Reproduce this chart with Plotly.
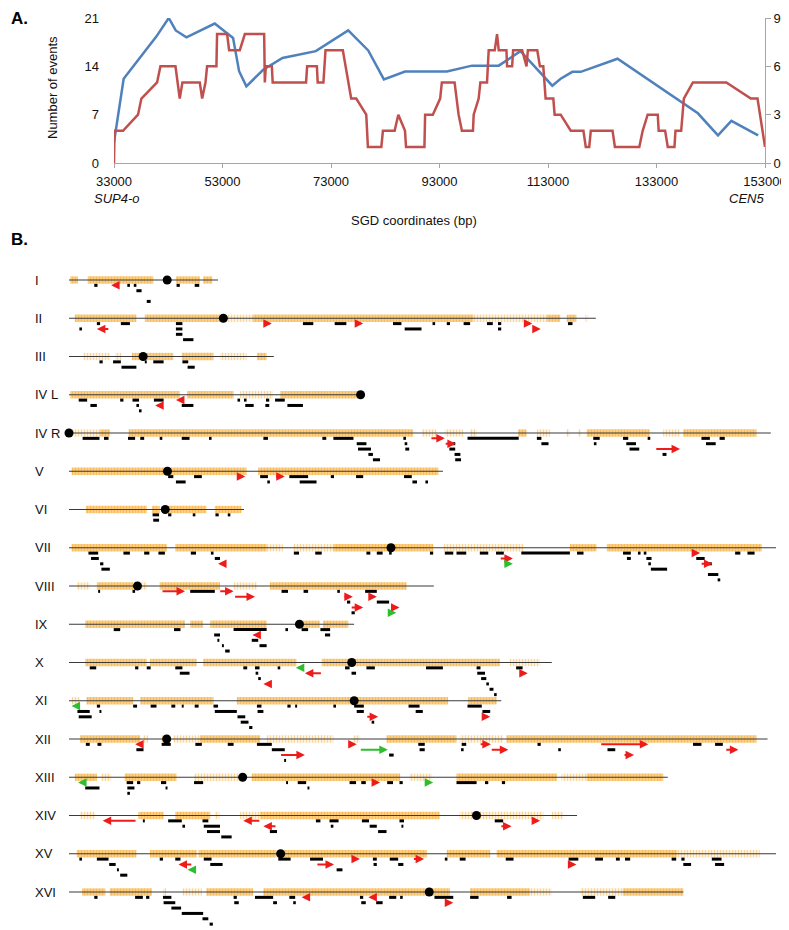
import plotly.graph_objects as go

# the page adds an 8px body margin, so the figure is drawn 8px smaller and every
# screen-pixel placement below is shifted by that offset
PAGE_W, PAGE_H = 789, 930
OFF = 8
W, H = PAGE_W - OFF, PAGE_H - OFF

# ---------------- panel A: events along the SUP4-o / CEN5 interval ----------------
x_ticks = [33000, 53000, 73000, 93000, 113000, 133000, 153000]

blue_x = [33000, 34780, 40800, 43090, 44380, 46350, 51570, 54950, 56060, 57400,
          60500, 64060, 70200, 76170, 79860, 82750, 86640, 94360, 98990, 103920,
          107930, 113790, 115330, 117490, 119040, 125820, 140630, 144330, 146800, 151740]
blue_y = [3, 12.2, 18.3, 21, 19.2, 18.2, 20.2, 18.1, 13.3, 11.1,
          13.5, 15.2, 16.2, 19.2, 16.3, 12.1, 13.25, 13.25, 14.1, 14.1,
          16.2, 11.2, 12.2, 13.2, 13.2, 15.1, 7.2, 4.0, 6.1, 4.0]

red_x = [33000, 33100, 34660, 37430, 38050, 40940, 41560, 44330, 45120, 45610,
         48810, 49250, 49860, 50160, 51880, 52000, 53850, 54220, 56190, 57120,
         60680, 60800, 60980, 62100, 62250, 68400, 68600, 70400, 70550, 71600,
         71990, 75180, 76720, 77650, 79500, 79800, 82280, 82570, 84730, 85410,
         86640, 86830, 90220, 90350, 91770, 93120, 93430, 95780, 96520, 97130,
         99170, 99300, 100220, 100530, 101760, 102070, 103180, 103610, 103920, 105340,
         105460, 106390, 106570, 108240, 109040, 109290, 111020, 111510, 112130, 112560,
         113980, 114220, 115340, 117190, 119530, 119960, 120600, 120890, 124900, 125330,
         129830, 130450, 131370, 133230, 133400, 134590, 135080, 136310, 136500, 137550,
         138040, 139710, 145880, 150380, 151620, 152480, 153000]
red_y = [0, 2, 2, 3, 4, 5, 6, 6, 4, 5,
         5, 4, 5, 6, 6, 8, 8, 7, 7, 8,
         8, 5, 6, 6, 5, 5, 6, 6, 5, 5,
         7, 7, 4, 4, 3, 1, 1, 2, 2, 3,
         2, 1, 1, 3, 3, 4, 5, 5, 3, 2,
         2, 3, 4, 5, 5, 7, 7, 8, 7, 7,
         6, 6, 7, 7, 6, 7, 7, 6, 6, 4,
         4, 3, 3, 2, 2, 1, 1, 2, 2, 1,
         1, 2, 3, 3, 2, 2, 1, 1, 2, 2,
         4, 5, 5, 4, 4, 2, 1]

# ---------------- panel B: genome map (kb) ----------------
chrom_names = ["I", "II", "III", "IV L", "IV R", "V", "VI", "VII", "VIII",
               "IX", "X", "XI", "XII", "XIII", "XIV", "XV", "XVI"]
chrom_len = [230, 813, 316, 450, 1083, 577, 270, 1091, 563, 440, 745, 667,
             1078, 924, 784, 1091, 948]
cen_pos = [151.5, 238.2, 114.4, 450, 0, 151.9, 148.5, 496.9, 105.6, 355.6,
           436.3, 440.1, 150.8, 268.0, 628.8, 326.6, 555.9]

# gene-rich stretches (row, start, end)
genes_dense = [
    (0, 2, 14), (0, 29, 130), (0, 165, 202), (0, 207, 221),
    (1, 9, 104), (1, 117, 233), (1, 284, 624), (1, 737, 758), (1, 768, 783),
    (2, 97, 112), (2, 120, 161), (2, 174, 223), (2, 290, 305),
    (3, 2, 171), (3, 182, 254), (3, 326, 446),
    (4, 48, 63), (4, 92, 531), (4, 693, 706), (4, 799, 896), (4, 948, 1061),
    (5, 4, 151), (5, 156, 274), (5, 292, 570),
    (6, 26, 120), (6, 128, 140), (6, 153, 212), (6, 225, 266),
    (7, 4, 151), (7, 164, 305), (7, 408, 562), (7, 773, 814), (7, 830, 1069),
    (8, 43, 99), (8, 140, 233), (8, 310, 521),
    (9, 25, 179), (9, 187, 207), (9, 218, 305), (9, 359, 387), (9, 392, 431),
    (10, 25, 120), (10, 125, 197), (10, 207, 351), (10, 390, 665),
    (11, 27, 99), (11, 110, 223), (11, 259, 585), (11, 616, 660),
    (12, 17, 110), (12, 202, 295), (12, 490, 598), (12, 675, 1061),
    (13, 9, 43), (13, 86, 166), (13, 282, 511), (13, 598, 753), (13, 799, 917),
    (14, 107, 146), (14, 164, 218), (14, 295, 572),
    (15, 12, 104), (15, 125, 197), (15, 200, 320), (15, 331, 552), (15, 583, 650),
    (15, 660, 938),
    (16, 20, 56), (16, 63, 128), (16, 212, 284), (16, 300, 588), (16, 619, 711),
    (16, 855, 948),
]
genes_sparse = [
    (1, 243, 284), (1, 624, 737), (1, 797, 801),
    (2, 22, 63), (2, 71, 81), (2, 233, 274),
    (3, 264, 315),
    (4, 4, 48), (4, 544, 567), (4, 580, 608), (4, 619, 629), (4, 722, 742),
    (4, 768, 773), (4, 786, 790), (4, 917, 943),
    (7, 305, 330), (7, 346, 408), (7, 578, 701),
    (8, 12, 32), (8, 110, 120), (8, 254, 290),
    (10, 680, 727),
    (11, 4, 17),
    (12, 114, 122), (12, 143, 155), (12, 161, 202), (12, 305, 408), (12, 439, 449),
    (12, 603, 670),
    (13, 50, 65), (13, 193, 264), (13, 525, 560), (13, 760, 799),
    (14, 17, 40), (14, 225, 232), (14, 264, 295), (14, 603, 732), (14, 745, 763),
    (15, 938, 1066),
    (16, 145, 150), (16, 175, 205), (16, 711, 745), (16, 789, 855),
]

# conversion tracts (row, start, end, level)
tracts = [
    (0, 39, 44, 1), (0, 90, 94, 1), (0, 100, 104, 1), (0, 166, 171, 1), (0, 194, 201, 1),
    (0, 104, 112, 2), (0, 120, 126, 4),
    (1, 43, 48, 1), (1, 80, 94, 1), (1, 165, 175, 1), (1, 361, 377, 1), (1, 410, 428, 1),
    (1, 500, 513, 1), (1, 561, 565, 1), (1, 583, 588, 1), (1, 609, 619, 1), (1, 645, 654, 1),
    (1, 662, 667, 1), (1, 770, 777, 1),
    (1, 16, 20, 2), (1, 165, 175, 2), (1, 518, 544, 2), (1, 662, 667, 2),
    (1, 165, 175, 3), (1, 176, 192, 4),
    (2, 47, 52, 1), (2, 68, 80, 1), (2, 117, 120, 1), (2, 130, 146, 1), (2, 175, 184, 1),
    (2, 81, 104, 2), (2, 183, 194, 2),
    (3, 15, 28, 1), (3, 79, 84, 1), (3, 98, 108, 1), (3, 131, 146, 1), (3, 260, 264, 1),
    (3, 270, 274, 1), (3, 304, 309, 1), (3, 318, 333, 1),
    (3, 33, 43, 2), (3, 104, 108, 2), (3, 174, 192, 2), (3, 272, 285, 2), (3, 303, 309, 2),
    (3, 337, 361, 2), (3, 108, 112, 3),
    (4, 21, 47, 1), (4, 54, 61, 1), (4, 91, 102, 1), (4, 110, 116, 1), (4, 140, 144, 1),
    (4, 174, 186, 1), (4, 216, 220, 1), (4, 300, 307, 1), (4, 391, 397, 1), (4, 408, 439, 1),
    (4, 516, 520, 1), (4, 615, 694, 1), (4, 722, 729, 1), (4, 809, 819, 1), (4, 855, 863, 1),
    (4, 893, 897, 1), (4, 976, 989, 1), (4, 1004, 1012, 1),
    (4, 444, 459, 2), (4, 518, 522, 2), (4, 588, 596, 2), (4, 729, 740, 2), (4, 810, 814, 2),
    (4, 860, 875, 2), (4, 983, 998, 2),
    (4, 446, 466, 3), (4, 519, 525, 3), (4, 587, 596, 3), (4, 865, 880, 3),
    (4, 462, 469, 4), (4, 595, 604, 4), (4, 916, 922, 4),
    (4, 469, 480, 5), (4, 596, 605, 5),
    (5, 153, 161, 1), (5, 193, 205, 1), (5, 295, 307, 1), (5, 340, 369, 1), (5, 404, 409, 1),
    (5, 443, 454, 1), (5, 517, 529, 1),
    (5, 165, 180, 2), (5, 306, 310, 2), (5, 356, 382, 2), (5, 530, 537, 2), (5, 550, 554, 2),
    (6, 129, 139, 1), (6, 153, 158, 1), (6, 191, 195, 1), (6, 226, 231, 1), (6, 245, 249, 1),
    (6, 130, 139, 2),
    (7, 30, 45, 1), (7, 84, 94, 1), (7, 116, 124, 1), (7, 138, 148, 1), (7, 188, 196, 1),
    (7, 219, 223, 1), (7, 347, 355, 1), (7, 380, 390, 1), (7, 459, 465, 1), (7, 475, 484, 1),
    (7, 494, 498, 1), (7, 557, 562, 1), (7, 580, 593, 1), (7, 598, 613, 1), (7, 634, 647, 1),
    (7, 659, 671, 1), (7, 698, 773, 1), (7, 784, 794, 1), (7, 855, 867, 1), (7, 878, 882, 1),
    (7, 887, 891, 1), (7, 1028, 1036, 1), (7, 1047, 1058, 1),
    (7, 34, 46, 2), (7, 225, 233, 2), (7, 861, 867, 2), (7, 891, 899, 2), (7, 968, 981, 2),
    (7, 48, 53, 3), (7, 894, 898, 3), (7, 983, 992, 3),
    (7, 50, 63, 4), (7, 898, 923, 4), (7, 986, 1002, 5), (7, 1001, 1005, 6),
    (8, 45, 48, 1), (8, 98, 102, 1), (8, 187, 225, 1), (8, 328, 338, 1), (8, 362, 369, 1),
    (8, 414, 418, 1), (8, 457, 475, 1),
    (8, 429, 434, 3), (8, 475, 494, 3), (8, 436, 441, 5),
    (9, 69, 79, 1), (9, 162, 172, 1), (9, 254, 305, 1), (9, 334, 338, 1), (9, 359, 369, 1),
    (9, 388, 403, 1),
    (9, 224, 233, 2), (9, 395, 403, 2), (9, 229, 232, 3), (9, 282, 292, 3),
    (9, 236, 239, 4), (9, 294, 305, 4), (9, 241, 248, 5),
    (10, 32, 42, 1), (10, 102, 107, 1), (10, 120, 126, 1), (10, 164, 175, 1), (10, 269, 275, 1),
    (10, 287, 294, 1), (10, 322, 326, 1), (10, 426, 433, 1), (10, 459, 472, 1), (10, 551, 577, 1),
    (10, 629, 635, 1), (10, 690, 700, 1),
    (10, 171, 186, 2), (10, 288, 292, 2), (10, 436, 443, 2), (10, 630, 642, 2),
    (10, 292, 296, 3), (10, 636, 644, 3),
    (10, 644, 648, 4), (10, 649, 655, 5), (10, 656, 660, 6),
    (11, 43, 48, 1), (11, 99, 105, 1), (11, 126, 135, 1), (11, 158, 164, 1), (11, 174, 177, 1),
    (11, 194, 200, 1), (11, 223, 230, 1), (11, 290, 297, 1), (11, 337, 342, 1), (11, 349, 352, 1),
    (11, 408, 412, 1), (11, 440, 455, 1), (11, 524, 541, 1), (11, 615, 637, 1),
    (11, 13, 32, 2), (11, 47, 50, 2), (11, 225, 259, 2), (11, 291, 300, 2), (11, 444, 455, 2),
    (11, 535, 546, 2), (11, 638, 650, 2),
    (11, 15, 35, 3), (11, 260, 272, 3),
    (11, 265, 277, 4), (11, 467, 471, 4), (11, 278, 283, 5),
    (12, 26, 32, 1), (12, 44, 50, 1), (12, 143, 157, 1), (12, 195, 205, 1), (12, 245, 254, 1),
    (12, 290, 313, 1), (12, 539, 549, 1), (12, 606, 613, 1), (12, 723, 728, 1), (12, 963, 976, 1),
    (12, 997, 1009, 1),
    (12, 104, 115, 2), (12, 313, 333, 2), (12, 541, 549, 2), (12, 605, 609, 2), (12, 755, 759, 2),
    (12, 831, 843, 2),
    (12, 494, 501, 3), (12, 332, 335, 4),
    (13, 89, 99, 1), (13, 105, 110, 1), (13, 142, 150, 1), (13, 193, 207, 1), (13, 335, 338, 1),
    (13, 353, 366, 1), (13, 433, 443, 1), (13, 451, 458, 1), (13, 491, 500, 1), (13, 510, 515, 1),
    (13, 598, 629, 1), (13, 642, 647, 1), (13, 668, 673, 1),
    (13, 25, 47, 2), (13, 90, 101, 2), (13, 149, 152, 2), (13, 368, 371, 2), (13, 90, 94, 3),
    (14, 114, 117, 1), (14, 153, 174, 1), (14, 206, 215, 1), (14, 381, 388, 1), (14, 402, 416, 1),
    (14, 452, 463, 1), (14, 510, 517, 1), (14, 657, 670, 1),
    (14, 175, 179, 2), (14, 208, 233, 2), (14, 404, 408, 2), (14, 464, 475, 2), (14, 513, 516, 2),
    (14, 213, 233, 3), (14, 310, 321, 3), (14, 477, 490, 3), (14, 235, 251, 4),
    (15, 16, 20, 1), (15, 43, 61, 1), (15, 140, 145, 1), (15, 164, 172, 1), (15, 208, 220, 1),
    (15, 323, 342, 1), (15, 372, 392, 1), (15, 469, 475, 1), (15, 495, 508, 1), (15, 580, 584, 1),
    (15, 603, 612, 1), (15, 674, 686, 1), (15, 771, 786, 1), (15, 812, 824, 1), (15, 844, 850, 1),
    (15, 858, 866, 1), (15, 930, 937, 1), (15, 945, 950, 1), (15, 992, 1007, 1),
    (15, 62, 72, 2), (15, 218, 237, 2), (15, 470, 475, 2), (15, 508, 516, 2), (15, 948, 960, 2),
    (15, 997, 1011, 2),
    (15, 74, 77, 3), (15, 413, 422, 3), (15, 79, 90, 4),
    (16, 39, 44, 1), (16, 102, 114, 1), (16, 119, 124, 1), (16, 145, 158, 1), (16, 254, 259, 1),
    (16, 287, 315, 1), (16, 340, 349, 1), (16, 449, 454, 1), (16, 494, 505, 1), (16, 511, 515, 1),
    (16, 564, 593, 1), (16, 619, 632, 1), (16, 676, 683, 1), (16, 793, 812, 1), (16, 832, 843, 1),
    (16, 146, 164, 2), (16, 255, 262, 2), (16, 315, 321, 2), (16, 346, 350, 2), (16, 451, 458, 2),
    (16, 474, 484, 2),
    (16, 158, 173, 3), (16, 174, 207, 4), (16, 206, 215, 5), (16, 217, 222, 6),
]

# arrows (row, tail, head, level, colour)
arrows = [
    (0, 79, 65, 1, "r"),
    (1, 63, 43, 2, "r"), (1, 300, 313, 1, "r"), (1, 443, 454, 1, "r"), (1, 706, 715, 1, "r"),
    (1, 716, 728, 2, "r"),
    (3, 146, 133, 2, "r"), (3, 175, 165, 1, "r"),
    (4, 557, 580, 1, "r"), (4, 579, 597, 2, "r"), (4, 904, 943, 3, "r"),
    (5, 264, 272, 1, "r"), (5, 317, 333, 1, "r"),
    (7, 237, 230, 3, "r"), (7, 664, 685, 2, "r"), (7, 670, 685, 3, "g"), (7, 963, 974, 1, "r"),
    (7, 974, 993, 3, "r"),
    (8, 142, 179, 1, "r"), (8, 231, 254, 1, "r"), (8, 254, 287, 2, "r"), (8, 423, 438, 2, "r"),
    (8, 434, 454, 4, "r"), (8, 467, 475, 2, "r"), (8, 495, 510, 4, "r"), (8, 495, 505, 5, "g"),
    (9, 222, 217, 1, "r"), (9, 294, 283, 2, "r"),
    (10, 309, 300, 4, "r"), (10, 364, 350, 1, "g"), (10, 391, 364, 2, "r"), (10, 698, 708, 2, "r"),
    (11, 16, 4, 1, "g"), (11, 458, 477, 3, "r"), (11, 638, 650, 3, "r"),
    (12, 112, 102, 1, "r"), (12, 325, 364, 3, "r"), (12, 430, 444, 1, "r"), (12, 448, 492, 2, "g"),
    (12, 633, 651, 1, "r"), (12, 650, 678, 2, "r"), (12, 819, 894, 1, "r"), (12, 855, 872, 3, "r"),
    (12, 1012, 1033, 2, "r"),
    (13, 25, 14, 1, "g"), (13, 472, 480, 1, "r"), (13, 553, 562, 1, "g"),
    (14, 105, 52, 1, "r"), (14, 296, 269, 1, "r"), (14, 321, 300, 2, "r"), (14, 665, 683, 2, "r"),
    (14, 714, 727, 1, "r"),
    (15, 191, 169, 2, "r"), (15, 191, 183, 3, "g"), (15, 381, 409, 2, "r"), (15, 439, 449, 1, "r"),
    (15, 530, 548, 1, "r"), (15, 770, 783, 2, "r"),
    (16, 369, 359, 1, "r"), (16, 472, 462, 1, "r"), (16, 580, 593, 2, "r"),
]

# arrowheads only (row, position, level, direction, colour)
chevrons = [
    (0, 118, 3, "<", "r"),
    (1, 13, 1, "<", "g"), (1, 120, 1, "<", "r"), (1, 153, 1, "<", "g"),
    (3, 9, 1, "<", "g"), (3, 308, 3, "<", "g"),
    (4, 902, 2, ">", "g"), (4, 1061, 1, ">", "g"),
    (5, 246, 1, ">", "g"), (5, 552, 1, ">", "g"),
    (6, 84, 1, "<", "g"),
    (9, 30, 1, "<", "g"), (9, 315, 1, "<", "r"),
    (10, 148, 1, "<", "g"), (10, 184, 3, "<", "r"), (10, 724, 1, ">", "g"),
    (11, 480, 1, ">", "r"),
    (12, 752, 1, ">", "r"),
    (13, 521, 1, ">", "r"),
    (15, 454, 2, ">", "r"), (15, 878, 1, ">", "g"),
    (16, 349, 2, "<", "r"), (16, 539, 1, "<", "r"),
]

COLORS = {"r": "#EE1B1B", "g": "#2DBE2D"}
LEVEL_STEP = 0.14
GENE_BAND = 0.19
ROW_TOP, ROW_PITCH = 280, 38.25     # screen px of row I and spacing
KB_X0, KB_SCALE = 69, 0.648          # screen px of 0 kb, px per kb
FONT = "Arial, Liberation Sans, sans-serif"


def px_x(p):
    return (p - OFF) / W


def px_y(p):
    return 1 - (p - OFF) / H


def ypos(row, level):
    return row + level * LEVEL_STEP


def segments(items):
    xs, ys = [], []
    for row, s, e, lvl in items:
        xs += [s, e, None]
        ys += [ypos(row, lvl)] * 2 + [None]
    return xs, ys


def gene_bars(items, fg, bg, solidity):
    return go.Bar(
        orientation="h", xaxis="x2", yaxis="y3",
        y=[it[0] for it in items],
        base=[it[1] for it in items],
        x=[it[2] - it[1] for it in items],
        width=GENE_BAND, hoverinfo="skip",
        marker=dict(color=bg, line=dict(width=0),
                    pattern=dict(shape="|", fgcolor=fg, bgcolor=bg,
                                 size=3, solidity=solidity)),
    )


def label(x, y, text, **kw):
    d = dict(x=px_x(x), y=px_y(y), xref="paper", yref="paper", text=text,
             showarrow=False, xanchor="center", yanchor="middle",
             font=dict(size=13, color="#111"))
    d.update(kw)
    return d


fig = go.Figure()

# panel A
fig.add_trace(go.Scatter(x=blue_x, y=blue_y, mode="lines", xaxis="x", yaxis="y",
                         line=dict(color="#4F81BD", width=2.5)))
fig.add_trace(go.Scatter(x=red_x, y=red_y, mode="lines", xaxis="x", yaxis="y2",
                         line=dict(color="#C0504D", width=2.5)))

# panel B
fig.add_trace(gene_bars(genes_sparse, "rgba(246,168,40,0.85)", "rgba(250,205,130,0.2)", 0.4))
fig.add_trace(gene_bars(genes_dense, "rgba(245,160,20,1)", "rgba(250,192,95,0.6)", 0.6))

cx, cy = [], []
for i, ln in enumerate(chrom_len):
    cx += [0, ln, None]
    cy += [i, i, None]
fig.add_trace(go.Scatter(x=cx, y=cy, mode="lines", xaxis="x2", yaxis="y3",
                         line=dict(color="#3a3a3a", width=1.2)))

fig.add_trace(go.Scatter(x=cen_pos, y=list(range(len(cen_pos))), mode="markers",
                         xaxis="x2", yaxis="y3",
                         marker=dict(color="black", size=9, symbol="circle")))

tx, ty = segments(tracts)
fig.add_trace(go.Scatter(x=tx, y=ty, mode="lines", xaxis="x2", yaxis="y3",
                         line=dict(color="black", width=3)))

annotations = []
for row, tail, head, lvl, col in arrows:
    y = ypos(row, lvl)
    annotations.append(dict(x=head, y=y, ax=tail, ay=y, xref="x2", yref="y3",
                            axref="x2", ayref="y3", text="", showarrow=True,
                            arrowhead=2, arrowsize=0.85, arrowwidth=2,
                            arrowcolor=COLORS[col], font=dict(size=1)))
for row, pos, lvl, d, col in chevrons:
    y = ypos(row, lvl)
    tail = pos + 4 if d == "<" else pos - 4
    annotations.append(dict(x=pos, y=y, ax=tail, ay=y, xref="x2", yref="y3",
                            axref="x2", ayref="y3", text="", showarrow=True,
                            arrowhead=4, arrowsize=0.9, arrowwidth=2,
                            arrowcolor=COLORS[col], font=dict(size=1)))

for i, name in enumerate(chrom_names):
    annotations.append(dict(x=px_x(33), y=i, xref="paper", yref="y3", text=name,
                            showarrow=False, xanchor="left", yanchor="middle",
                            font=dict(size=13, color="#111")))

annotations += [
    label(9, 18, "<b>A.</b>", xanchor="left", font=dict(size=17, color="black")),
    label(9, 240, "<b>B.</b>", xanchor="left", font=dict(size=17, color="black")),
    label(52, 88, "Number of events", textangle=-90),
    label(414, 220, "SGD coordinates (bp)"),
    label(92, 198, "<i>SUP4-o</i>", xanchor="left"),
    label(766, 198, "<i>CEN5</i>", xanchor="right"),
]

axis_grey = "#A6A6A6"
fig.update_layout(
    width=W, height=H, margin=dict(l=0, r=0, t=0, b=0, autoexpand=False),
    paper_bgcolor="white", plot_bgcolor="white", showlegend=False,
    barmode="overlay",
    font=dict(family=FONT, size=13, color="#111"),
    xaxis=dict(domain=[px_x(114), px_x(765)], anchor="y", range=[33000, 153000],
               tickvals=x_ticks, ticktext=[str(v) for v in x_ticks],
               showline=True, linecolor=axis_grey, ticks="outside", ticklen=4,
               tickcolor=axis_grey, showgrid=False, zeroline=False,
               ticklabelstandoff=2, automargin=False),
    yaxis=dict(domain=[px_y(163), px_y(18)], anchor="x", range=[0, 21],
               tickvals=[0, 7, 14, 21], showgrid=False, zeroline=False,
               showline=False, ticks="", ticklabelstandoff=14, automargin=False),
    yaxis2=dict(overlaying="y", side="right", anchor="x", range=[0, 9],
                tickvals=[0, 3, 6, 9], showgrid=False, zeroline=False,
                showline=True, linecolor=axis_grey, ticks="outside", ticklen=5,
                tickcolor=axis_grey, automargin=False),
    xaxis2=dict(domain=[0, 1], anchor="y3",
                range=[(OFF - KB_X0) / KB_SCALE, (PAGE_W - KB_X0) / KB_SCALE],
                visible=False, automargin=False),
    yaxis3=dict(domain=[0, px_y(250)], anchor="x2",
                range=[(PAGE_H - ROW_TOP) / ROW_PITCH, (250 - ROW_TOP) / ROW_PITCH],
                visible=False, automargin=False),
    annotations=annotations,
)

fig.write_html("out.html")
